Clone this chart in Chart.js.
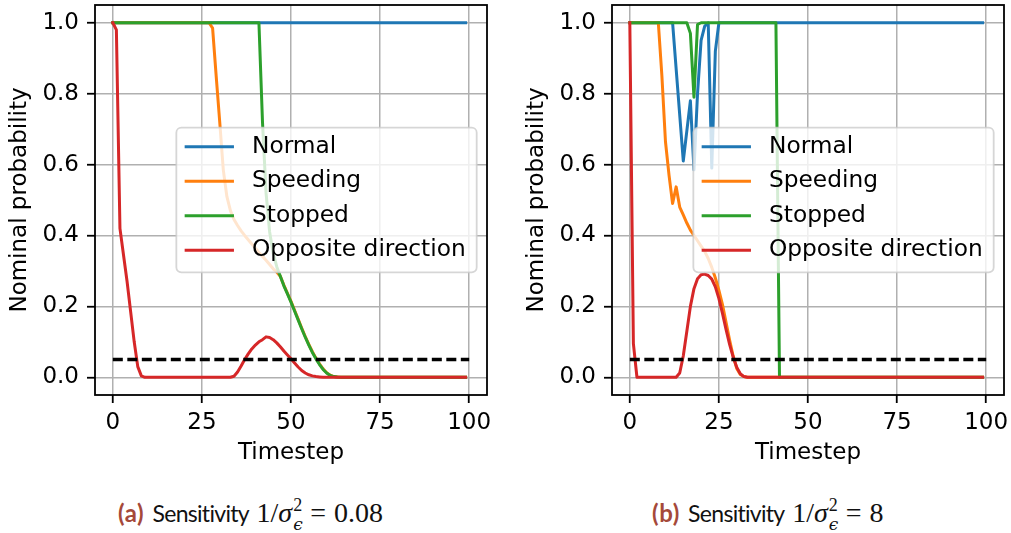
<!DOCTYPE html>
<html>
<head>
<meta charset="utf-8">
<script src="https://cdn.jsdelivr.net/npm/chart.js@4.4.1/dist/chart.umd.min.js"></script>
<style>
html,body{margin:0;padding:0;background:#fff;width:1011px;height:533px;overflow:hidden;}
.wrap{position:absolute;top:0;width:494px;height:470px;}
.cap{position:absolute;top:499px;font-family:Lato,"Open Sans",sans-serif;font-size:23px;letter-spacing:-0.7px;line-height:28px;color:#111;white-space:nowrap;}
.cap b{color:#a5493a;font-weight:bold;font-size:24px;letter-spacing:0.6px;margin-right:3px;}
.m{font-family:"Liberation Serif","DejaVu Serif",serif;font-size:28px;letter-spacing:0;margin-left:3px;}
.m i{font-style:italic;}
.eq{padding:0 8px 0 6px;}
.ss{display:inline-block;position:relative;width:12px;height:0;vertical-align:baseline;}
.sp{position:absolute;left:1px;bottom:9px;font-size:18px;line-height:16px;}
.sb{position:absolute;left:1px;bottom:-9.5px;font-size:17px;line-height:16px;font-style:italic;font-family:"DejaVu Serif",serif;}
</style>
</head>
<body>
<div class="wrap" style="left:0px"><canvas id="chartA" width="494" height="470"></canvas></div>
<div class="wrap" style="left:517px"><canvas id="chartB" width="494" height="470"></canvas></div>
<div class="cap" style="left:118px"><b>(a)</b> Sensitivity <span class="m">1/<i>σ</i><span class="ss"><span class="sp">2</span><span class="sb">ϵ</span></span><span class="eq">=</span>0.08</span></div>
<div class="cap" style="left:652px"><b>(b)</b> Sensitivity <span class="m">1/<i>σ</i><span class="ss"><span class="sp">2</span><span class="sb">ϵ</span></span><span class="eq">=</span>8</span></div>
<script>
// ---- data ----
const seriesLabels = ['Normal', 'Speeding', 'Stopped', 'Opposite direction'];
const xTicks = [0, 25, 50, 75, 100];
const xTickLabels = ['0', '25', '50', '75', '100'];
const yTicks = [0, 0.2, 0.4, 0.6, 0.8, 1.0];
const yTickLabels = ['0.0', '0.2', '0.4', '0.6', '0.8', '1.0'];
const xAxisTitle = 'Timestep';
const yAxisTitle = 'Nominal probability';
const thresholdValue = 0.05;
const thresholdSpan = [0, 100];

// (a) sensitivity 0.08 — one value per timestep 0..99
const normalA = [
1,1,1,1,1,1,1,1,1,1, 1,1,1,1,1,1,1,1,1,1, 1,1,1,1,1,1,1,1,1,1, 1,1,1,1,1,1,1,1,1,1,
1,1,1,1,1,1,1,1,1,1, 1,1,1,1,1,1,1,1,1,1, 1,1,1,1,1,1,1,1,1,1, 1,1,1,1,1,1,1,1,1,1,
1,1,1,1,1,1,1,1,1,1, 1,1,1,1,1,1,1,1,1,1];
const speedingA = [
1,1,1,1,1,1,1,1,1,1, 1,1,1,1,1,1,1,1,1,1, 1,1,1,1,1,1,1,1,0.985,0.85,
0.72,0.585,0.51,0.47,0.445,0.428,0.413,0.40,0.388,0.376,
0.364,0.352,0.341,0.33,0.318,0.306,0.297,0.285,0.26,0.237,
0.214,0.189,0.164,0.139,0.115,0.093,0.072,0.054,0.038,0.024,
0.013,0.006,0.002,0.001,0,0,0,0,0,0,
0,0,0,0,0,0,0,0,0,0, 0,0,0,0,0,0,0,0,0,0, 0,0,0,0,0,0,0,0,0,0];
const stoppedA = [
1,1,1,1,1,1,1,1,1,1, 1,1,1,1,1,1,1,1,1,1, 1,1,1,1,1,1,1,1,1,1, 1,1,1,1,1,1,1,1,1,1,
1,1,0.72,0.52,0.41,0.35,0.312,0.285,0.258,0.235,
0.212,0.187,0.162,0.137,0.113,0.091,0.07,0.052,0.036,0.022,
0.012,0.005,0.002,0.0005,0,0,0,0,0,0,
0,0,0,0,0,0,0,0,0,0, 0,0,0,0,0,0,0,0,0,0, 0,0,0,0,0,0,0,0,0,0];
const oppositeA = [
1,0.98,0.42,0.345,0.27,0.185,0.1,0.03,0.004,0,
0,0,0,0,0,0,0,0,0,0, 0,0,0,0,0,0,0,0,0,0,
0,0,0,0,0.003,0.015,0.032,0.05,0.066,0.08,
0.091,0.1,0.106,0.114,0.112,0.106,0.097,0.086,0.074,0.063,
0.052,0.04,0.029,0.019,0.012,0.007,0.004,0.002,0.001,0,
0,0,0,0,0,0,0,0,0,0, 0,0,0,0,0,0,0,0,0,0, 0,0,0,0,0,0,0,0,0,0, 0,0,0,0,0,0,0,0,0,0];

// (b) sensitivity 8
const normalB = [
1,1,1,1,1,1,1,1,1,1,
1,1,1,0.87,0.74,0.61,0.695,0.78,0.585,0.80,
0.95,0.99,1,0.59,0.92,1,1,1,1,1,
1,1,1,1,1,1,1,1,1,1, 1,1,1,1,1,1,1,1,1,1, 1,1,1,1,1,1,1,1,1,1, 1,1,1,1,1,1,1,1,1,1,
1,1,1,1,1,1,1,1,1,1, 1,1,1,1,1,1,1,1,1,1, 1,1,1,1,1,1,1,1,1,1];
const speedingB = [
1,1,1,1,1,1,1,1,1,0.85,
0.665,0.57,0.49,0.537,0.48,0.458,0.435,0.415,0.40,0.385,
0.37,0.355,0.335,0.31,0.28,0.245,0.205,0.155,0.105,0.06,
0.025,0.008,0.002,0,0,0,0,0,0,0,
0,0,0,0,0,0,0,0,0,0, 0,0,0,0,0,0,0,0,0,0, 0,0,0,0,0,0,0,0,0,0, 0,0,0,0,0,0,0,0,0,0,
0,0,0,0,0,0,0,0,0,0, 0,0,0,0,0,0,0,0,0,0];
const stoppedB = [
1,1,1,1,1,1,1,1,1,1,
1,1,1,1,1,1,1,0.97,0.79,0.995,
1,1,1,1,1,1,1,1,1,1, 1,1,1,1,1,1,1,1,1,1,
1,1,0,0,0,0,0,0,0,0,
0,0,0,0,0,0,0,0,0,0, 0,0,0,0,0,0,0,0,0,0, 0,0,0,0,0,0,0,0,0,0,
0,0,0,0,0,0,0,0,0,0, 0,0,0,0,0,0,0,0,0,0];
const oppositeB = [
1,0.095,0,0,0,0,0,0,0,0,
0,0,0,0,0.012,0.06,0.13,0.2,0.25,0.278,
0.289,0.291,0.287,0.277,0.255,0.222,0.18,0.135,0.093,0.057,
0.028,0.01,0.002,0,0,0,0,0,0,0,
0,0,0,0,0,0,0,0,0,0, 0,0,0,0,0,0,0,0,0,0, 0,0,0,0,0,0,0,0,0,0,
0,0,0,0,0,0,0,0,0,0, 0,0,0,0,0,0,0,0,0,0, 0,0,0,0,0,0,0,0,0,0];

// ---- styles ----
const seriesColors = ['#1f77b4', '#ff7f0e', '#2ca02c', '#d62728'];
const FONT = {family: 'DejaVu Sans', size: 23};
Chart.defaults.font.family = 'DejaVu Sans';
Chart.defaults.color = '#000';

const frameLegend = {
  id: 'frameLegend',
  afterDatasetsDraw(chart) {
    const {ctx, chartArea: a} = chart;
    ctx.save();
    ctx.strokeStyle = '#000';
    ctx.lineWidth = 1.8;
    ctx.strokeRect(a.left, a.top, a.right - a.left, a.bottom - a.top);

    ctx.font = '23.3px "DejaVu Sans"';
    const items = chart.data.datasets.filter(d => !d.label.startsWith('_'));
    const maxW = Math.max(...items.map(d => ctx.measureText(d.label).width));
    const w = 75.6 + maxW + 11;
    const h = 144.6;
    const x0 = a.right - 10.3 - w;
    const y0 = (a.top + a.bottom) / 2 - h / 2;
    const r = 5;
    ctx.beginPath();
    ctx.moveTo(x0 + r, y0);
    ctx.lineTo(x0 + w - r, y0);
    ctx.arcTo(x0 + w, y0, x0 + w, y0 + r, r);
    ctx.lineTo(x0 + w, y0 + h - r);
    ctx.arcTo(x0 + w, y0 + h, x0 + w - r, y0 + h, r);
    ctx.lineTo(x0 + r, y0 + h);
    ctx.arcTo(x0, y0 + h, x0, y0 + h - r, r);
    ctx.lineTo(x0, y0 + r);
    ctx.arcTo(x0, y0, x0 + r, y0, r);
    ctx.closePath();
    ctx.fillStyle = 'rgba(255,255,255,0.8)';
    ctx.fill();
    ctx.strokeStyle = 'rgba(204,204,204,0.8)';
    ctx.lineWidth = 1.8;
    ctx.stroke();

    const rows = [19, 53.5, 88, 122.5];
    items.forEach((d, i) => {
      const y = y0 + rows[i];
      ctx.beginPath();
      ctx.moveTo(x0 + 8.3, y);
      ctx.lineTo(x0 + 57.6, y);
      ctx.strokeStyle = d.borderColor;
      ctx.lineWidth = 3;
      ctx.lineCap = 'butt';
      ctx.stroke();
      ctx.fillStyle = '#000';
      ctx.textBaseline = 'middle';
      ctx.textAlign = 'left';
      ctx.fillText(d.label, x0 + 75.6, y);
    });
    ctx.restore();
  }
};

function makeChart(id, series) {
  const datasets = series.map((arr, i) => ({
    label: seriesLabels[i],
    data: arr.map((v, t) => ({x: t, y: v})),
    borderColor: seriesColors[i],
    borderWidth: 3,
    pointRadius: 0,
    tension: 0,
    fill: false,
    borderJoinStyle: 'round',
    borderCapStyle: 'square',
    order: 4 - i
  }));
  datasets.push({
    label: '_threshold',
    data: thresholdSpan.map(x => ({x: x, y: thresholdValue})),
    borderColor: '#000',
    borderWidth: 3.5,
    borderDash: [10, 4.5],
    borderCapStyle: 'butt',
    pointRadius: 0,
    fill: false,
    order: 0
  });
  return new Chart(document.getElementById(id), {
    type: 'line',
    data: {datasets},
    plugins: [frameLegend],
    options: {
      responsive: false,
      animation: false,
      devicePixelRatio: 1,
      layout: {padding: {left: 0, top: 5, right: 7, bottom: 0}},
      plugins: {legend: {display: false}, tooltip: {enabled: false}},
      scales: {
        x: {
          type: 'linear', min: -5, max: 105,
          afterBuildTicks: s => { s.ticks = xTicks.map(v => ({value: v})); },
          afterFit: s => { s.height = 75; s.paddingLeft = 0; s.paddingRight = 0; },
          ticks: {font: FONT, color: '#000', padding: 6, maxRotation: 0, autoSkip: false,
                  callback: (v, i) => xTickLabels[i]},
          grid: {color: '#b0b0b0', lineWidth: 1.5, tickLength: 8, tickColor: '#000', tickWidth: 1.8, drawTicks: true},
          border: {display: false},
          title: {display: true, text: xAxisTitle, font: FONT, color: '#000', padding: {top: 0, bottom: 3.5}}
        },
        y: {
          type: 'linear', min: -0.05, max: 1.05,
          afterBuildTicks: s => { s.ticks = yTicks.map(v => ({value: v})); },
          afterFit: s => { s.width = 95; s.paddingTop = 0; s.paddingBottom = 0; },
          ticks: {font: FONT, color: '#000', padding: 8, autoSkip: false,
                  callback: (v, i) => yTickLabels[i]},
          grid: {color: '#b0b0b0', lineWidth: 1.5, tickLength: 8, tickColor: '#000', tickWidth: 1.8, drawTicks: true},
          border: {display: false},
          title: {display: true, text: yAxisTitle, font: FONT, color: '#000', padding: {top: 6.2, bottom: 0}}
        }
      }
    }
  });
}

makeChart('chartA', [normalA, speedingA, stoppedA, oppositeA]);
makeChart('chartB', [normalB, speedingB, stoppedB, oppositeB]);
</script>
</body>
</html>
